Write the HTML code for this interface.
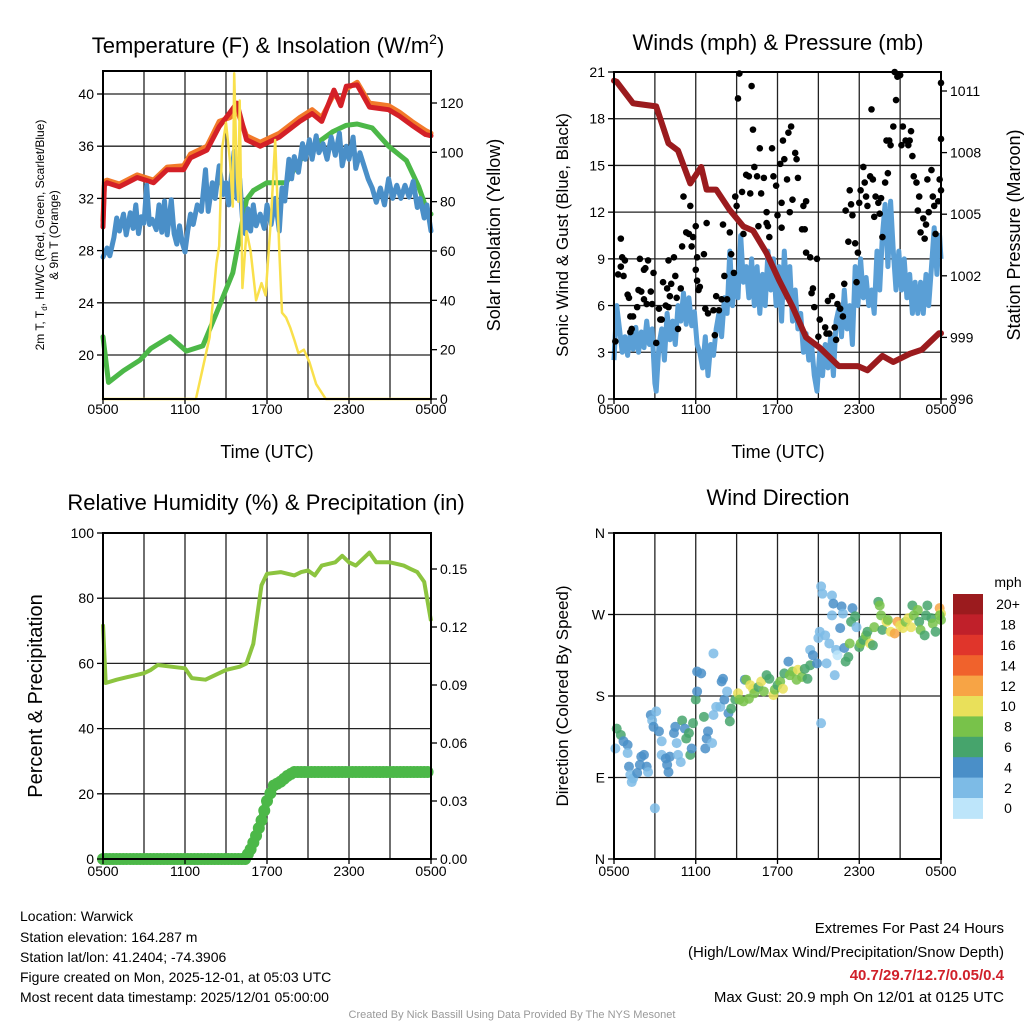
<!DOCTYPE html>
<html><head><meta charset="utf-8">
<style>
html,body{margin:0;padding:0;background:#fff;}
svg{display:block;font-family:"Liberation Sans",Arial,sans-serif;}
</style></head>
<body>
<svg id="c" width="1024" height="1024" viewBox="0 0 1024 1024" xmlns="http://www.w3.org/2000/svg">
<rect width="1024" height="1024" fill="#fff"/>
<text x="268" y="53" font-size="22" text-anchor="middle">Temperature (F) &amp; Insolation (W/m<tspan font-size="14" dy="-9">2</tspan><tspan dy="9">)</tspan></text>
<text x="778" y="50" font-size="22" text-anchor="middle">Winds (mph) &amp; Pressure (mb)</text>
<text x="266" y="510" font-size="22" text-anchor="middle">Relative Humidity (%) &amp; Precipitation (in)</text>
<text x="778" y="505" font-size="22" text-anchor="middle">Wind Direction</text>

<text x="267" y="458" font-size="18" text-anchor="middle">Time (UTC)</text>
<text x="778" y="458" font-size="18" text-anchor="middle">Time (UTC)</text>

<g font-size="12" text-anchor="middle">
<text transform="translate(44,235) rotate(-90)">2m T, T<tspan font-size="8" dy="3">d</tspan><tspan dy="-3">, HI/WC (Red, Green, Scarlet/Blue)</tspan></text>
<text transform="translate(58,235) rotate(-90)">&amp; 9m T (Orange)</text>
</g>
<text transform="translate(500,235) rotate(-90)" font-size="18" text-anchor="middle">Solar Insolation (Yellow)</text>
<text transform="translate(568,235) rotate(-90)" font-size="17" text-anchor="middle">Sonic Wind &amp; Gust (Blue, Black)</text>
<text transform="translate(1020,235) rotate(-90)" font-size="18" text-anchor="middle">Station Pressure (Maroon)</text>
<text transform="translate(42,696) rotate(-90)" font-size="20" text-anchor="middle">Percent &amp; Precipitation</text>
<text transform="translate(568,696) rotate(-90)" font-size="17" text-anchor="middle">Direction (Colored By Speed)</text>

<g font-size="14">
<text x="20" y="921">Location: Warwick</text>
<text x="20" y="942">Station elevation: 164.287 m</text>
<text x="20" y="962">Station lat/lon: 41.2404; -74.3906</text>
<text x="20" y="982">Figure created on Mon, 2025-12-01, at 05:03 UTC</text>
<text x="20" y="1002">Most recent data timestamp: 2025/12/01 05:00:00</text>
</g>
<g font-size="15" text-anchor="end">
<text x="1004" y="933">Extremes For Past 24 Hours</text>
<text x="1004" y="957">(High/Low/Max Wind/Precipitation/Snow Depth)</text>
<text x="1004" y="980" fill="#d0202a" font-weight="bold">40.7/29.7/12.7/0.05/0.4</text>
<text x="1004" y="1002">Max Gust: 20.9 mph On 12/01 at 0125 UTC</text>
</g>
<text x="512" y="1018" font-size="11" fill="#999" text-anchor="middle">Created By Nick Bassill Using Data Provided By The NYS Mesonet</text>
<g id="plots"></g>
</svg>
<script>
// ---------- DATA ----------
const xTickLabels = ["0500","1100","1700","2300","0500"];
const tempTicks = [20,24,28,32,36,40];
const solarTicks = [0,20,40,60,80,100,120];
const windTicks = [0,3,6,9,12,15,18,21];
const presTicks = [996,999,1002,1005,1008,1011];
const rhTicks = [0,20,40,60,80,100];
const precipTicks = [0,0.03,0.06,0.09,0.12,0.15];
const precipTickLabels = ["0.00","0.03","0.06","0.09","0.12","0.15"];
const dirTicks = [0,90,180,270,360];
const dirTickLabels = ["N","E","S","W","N"];
const speedBins = ["0","2","4","6","8","10","12","14","16","18","20+"];
const speedColors = ["#bde5fa","#7dbbe6","#4a8fc8","#46a46c","#78c24a","#e9e05a","#f7a445","#f0622c","#e0352b","#c0202a","#9b1b1e"];

const tempHours = [0,0.1,0.3,1.2,2.5,3.7,4.7,5.9,6.4,7.6,8.5,9.3,9.8,10.5,11.5,12.9,14.4,15.3,16.0,16.9,17.4,17.8,18.6,19.5,20.9,21.7,22.6,23.6,24];
const tempRed = [29.8,33.0,33.2,32.9,33.6,33.2,34.2,34.2,35.1,35.7,37.5,38.6,39.3,36.5,36.0,36.7,37.9,38.5,37.9,40.3,39.1,40.6,40.7,39.0,38.8,38.3,37.6,36.9,36.8];
const tempOrange = [30.3,33.3,33.4,33.1,33.8,33.4,34.4,34.5,35.4,36.0,37.9,38.2,38.8,36.8,36.3,37.0,38.2,38.8,38.2,40.0,39.4,40.4,40.9,39.3,39.1,38.6,37.9,37.2,37.0];
const greenHours = [0,0.4,1.5,2.7,3.5,4.9,6.1,7.3,8.3,9.5,10.5,11.0,12.0,13.4,14.4,15.6,16.8,17.8,18.6,19.7,20.9,22.2,23.1,23.7,24];
const tempGreen = [21.4,17.9,18.8,19.6,20.5,21.4,20.3,20.7,23.2,26.3,31.9,32.6,33.2,33.2,34.9,36.2,37.1,37.6,37.7,37.4,36.0,34.9,32.9,31.1,30.8];
const blueHours = [0,0.3,0.5,0.8,1.0,1.2,1.5,1.7,2.0,2.2,2.4,2.6,2.8,3.0,3.2,3.4,3.6,3.9,4.1,4.3,4.5,4.7,5.0,5.2,5.4,5.6,5.8,6.0,6.2,6.4,6.6,6.9,7.2,7.5,7.7,8.0,8.2,8.5,8.8,9.0,9.2,9.4,9.6,9.8,10.0,10.2,10.4,10.6,10.8,11.0,11.2,11.5,11.8,12.0,12.3,12.6,12.9,13.1,13.3,13.6,13.8,14.0,14.3,14.6,14.8,15.1,15.3,15.6,15.8,16.1,16.4,16.7,17.0,17.3,17.5,17.8,18.0,18.3,18.5,18.8,19.1,19.4,19.7,20.0,20.3,20.6,20.9,21.2,21.5,21.8,22.1,22.4,22.7,23.0,23.2,23.5,23.7,24.0];
const tempBlue = [27.5,28.2,27.6,29.0,30.5,29.5,30.8,29.2,30.9,29.7,31.5,29.3,30.6,30.1,33.0,30.0,30.4,29.6,31.5,29.4,31.8,29.2,31.9,29.3,28.5,29.9,28.6,27.9,29.5,30.8,30.0,31.5,31.0,34.2,31.0,33.2,32.0,34.5,32.3,33.2,31.5,33.8,35.6,32.0,33.5,30.5,29.3,31.2,29.5,31.5,29.9,30.8,29.7,31.5,30.0,32.0,29.5,32.8,31.8,35.0,33.5,35.2,34.0,36.2,35.0,36.5,35.0,36.8,35.5,36.2,35.0,36.7,35.3,37.0,34.5,36.0,35.0,36.7,34.3,35.5,34.5,33.5,32.8,31.7,32.8,31.5,33.5,32.0,33.0,32.0,33.0,32.1,33.3,31.3,32.0,30.5,31.5,29.5];
const solarHours = [0,6.8,7.2,7.8,8.3,8.5,8.7,9.0,9.3,9.5,9.6,9.8,9.9,10.0,10.2,10.5,10.8,11.2,11.6,11.9,12.3,12.6,12.9,13.1,13.4,13.7,14.0,14.3,14.7,15.1,15.6,16.3,24];
const solarValues = [0,0,10,25,55,62,101,112,96,78,132,90,80,121,45,68,60,40,47,42,74,105,60,35,33,29,24,18.6,20,15,6,0,0];

const presHours = [0,0.2,1.4,3.1,4.0,4.7,5.6,6.4,6.8,7.5,8.5,9.5,10.2,11.2,12.1,13.1,14.1,15.1,16.5,17.9,18.6,19.7,20.5,21.7,22.6,23.85,24];
const presValues = [1011.5,1011.45,1010.4,1010.25,1008.45,1008.1,1006.5,1007.3,1006.2,1006.2,1005.2,1004.4,1004.2,1003.1,1001.8,1000.5,999.0,998.5,997.6,997.6,997.4,998.1,997.8,998.2,998.4,999.2,999.2];
const windHours = [0,0.2,0.4,0.6,0.8,1.0,1.2,1.4,1.6,1.8,2.0,2.2,2.4,2.6,2.8,3.0,3.1,3.3,3.5,3.7,3.9,4.1,4.3,4.5,4.7,4.9,5.1,5.3,5.5,5.7,5.9,6.1,6.3,6.5,6.7,6.9,7.1,7.3,7.5,7.7,7.9,8.1,8.3,8.5,8.7,8.9,9.1,9.3,9.5,9.7,9.9,10.1,10.3,10.5,10.7,10.9,11.1,11.3,11.5,11.7,11.9,12.1,12.3,12.5,12.7,12.9,13.1,13.3,13.5,13.7,13.9,14.1,14.3,14.5,14.7,14.9,15.1,15.3,15.5,15.7,15.9,16.1,16.3,16.5,16.7,16.9,17.1,17.3,17.5,17.7,17.9,18.1,18.3,18.5,18.7,18.9,19.1,19.3,19.5,19.7,19.9,20.1,20.3,20.5,20.7,20.9,21.1,21.3,21.5,21.7,21.9,22.1,22.3,22.5,22.7,22.9,23.1,23.3,23.5,23.7,23.9,24.0];
const windSpeed = [2.5,6.0,4.5,3.0,4.0,2.8,4.2,3.2,4.6,3.0,4.3,3.3,5.0,3.5,4.5,1.0,0.5,3.5,4.5,2.5,5.5,3.8,5.0,3.5,6.0,5.0,6.8,4.8,6.5,4.7,5.6,3.5,3.0,2.0,4.0,1.5,3.5,2.8,4.5,5.5,4.0,6.5,5.5,9.5,6.0,8.0,6.5,10.5,7.5,8.5,6.5,9.0,6.0,8.5,5.5,8.0,6.0,9.5,7.0,9.0,6.0,8.5,5.0,9.5,6.5,8.5,5.0,7.0,4.5,5.5,3.0,4.2,2.5,3.5,1.5,0.5,3.0,1.5,3.5,2.0,4.0,1.5,5.0,5.8,4.0,7.0,4.5,6.0,3.5,8.5,6.0,9.0,6.5,7.8,6.0,7.0,5.5,9.5,7.0,10.5,12.5,8.5,12.7,9.5,7.0,9.5,7.0,9.0,6.5,8.0,5.5,7.5,5.5,7.5,5.5,8.0,6.0,8.5,11.0,8.0,10.5,9.0];
const gustHours = [0.1,0.3,0.5,0.6,0.5,0.8,0.7,1.0,1.1,1.2,1.3,1.4,1.2,1.7,1.8,1.9,2.0,2.2,2.2,2.3,2.4,2.5,2.7,2.8,2.9,3.1,3.3,3.4,3.5,3.6,3.8,3.9,4.0,4.0,4.1,4.2,4.4,4.5,4.6,4.7,4.9,5.0,5.1,5.3,5.5,5.6,5.7,5.8,6.0,6.0,6.1,6.1,6.2,6.3,6.6,6.7,6.8,6.9,7.3,7.4,7.5,7.7,7.9,8.0,8.1,8.3,8.5,8.6,8.8,8.9,9.0,9.1,9.2,9.4,9.5,9.7,9.9,10.0,10.1,10.2,10.3,10.5,10.6,10.7,10.8,11.0,11.2,11.2,11.3,11.4,11.6,11.7,11.9,12.0,12.2,12.3,12.3,12.4,12.5,12.7,12.8,12.9,13.0,13.1,13.3,13.4,13.5,13.8,13.9,14.0,14.1,14.1,14.4,14.5,14.6,14.7,14.9,15.0,15.1,15.5,15.6,15.7,15.8,16.0,16.2,16.3,16.4,16.6,16.8,16.9,17.0,17.2,17.3,17.4,17.5,17.7,17.8,17.9,18.0,18.1,18.3,18.4,18.5,18.6,18.8,18.9,19.0,19.1,19.2,19.4,19.5,19.6,19.7,19.9,20.0,20.1,20.2,20.3,20.5,20.6,20.7,20.8,21.0,21.1,21.2,21.4,21.6,21.7,21.8,21.9,22.0,22.2,22.3,22.4,22.5,22.7,22.8,22.9,23.0,23.1,23.3,23.4,23.5,23.6,23.8,23.9,24.0,24.0,24.0];
const gustSpeed = [3.7,8.0,10.3,9.1,8.5,8.9,7.9,6.7,6.5,5.3,4.5,5.3,4.3,5.9,7.0,9.0,6.9,6.4,8.3,8.4,6.1,8.9,6.9,6.1,8.1,3.6,5.8,5.1,5.1,7.5,6.0,7.1,8.9,5.9,6.6,7.4,9.1,7.9,6.5,4.5,7.1,9.8,13.0,10.7,10.6,12.4,9.8,10.4,11.1,8.3,9.1,7.6,7.0,7.2,9.3,5.8,11.3,5.5,5.7,4.1,6.6,5.7,6.4,11.2,7.9,6.4,10.7,9.3,8.1,13.0,12.4,19.3,20.9,13.3,10.6,14.4,14.3,13.2,20.1,17.3,14.9,14.3,11.1,16.1,13.2,14.2,12.0,11.3,11.1,10.4,16.1,14.3,13.7,11.8,15.1,12.6,11.0,16.6,15.4,14.1,17.1,12.0,17.5,12.8,15.8,15.4,14.2,10.9,12.4,10.9,12.7,9.4,9.1,6.8,7.1,5.9,9.0,4.0,5.1,4.6,4.2,6.3,4.2,6.6,4.6,3.8,6.1,5.8,5.3,7.4,12.1,10.1,13.4,12.5,11.8,10.0,7.5,9.4,12.6,13.4,14.9,13.9,13.0,12.4,14.3,18.6,14.1,11.7,13.0,12.6,11.9,12.9,10.4,13.9,16.6,14.5,16.6,16.3,17.5,21.0,19.2,20.7,20.8,16.3,17.5,16.6,16.3,16.6,17.2,15.6,14.3,13.9,12.1,13.0,10.7,11.6,10.3,11.2,14.1,12.0,14.7,13.0,12.4,10.6,12.7,14.1,20.3,13.4,16.7];

const rhHours = [0,0.2,1,2,3,3.5,4,5,6,6.5,7.5,8,9,10,10.5,11,11.3,11.6,12,13,14,14.5,15,15.5,16,17,17.5,18,18.5,19,19.5,20,21,22,22.5,23,23.5,24];
const rhValues = [72,54,55,56,57,58,59.5,59,58.5,55.5,55,56,58,59,60,66,75,84,87.5,88,87,88,88.5,87,90,91,93,91,90,92,94,91,91,90,89,88,85,73];
const precipHours = [0,10.4,10.8,11.2,11.6,12.0,12.5,13.0,13.5,14.0,24];
const precipValues = [0,0,0.005,0.012,0.02,0.03,0.038,0.04,0.043,0.045,0.045];

const dirHours = [0.2,0.5,0.7,1.0,0.1,1.0,1.1,1.2,1.3,1.4,1.7,1.9,2.0,2.2,2.4,2.5,2.7,2.8,2.9,3.1,3.0,3.3,3.5,3.5,3.8,3.9,4.0,4.1,4.4,4.5,4.6,4.7,4.9,5.0,5.2,5.3,5.5,5.6,5.7,5.8,6.0,6.1,6.1,6.4,6.6,6.7,6.8,6.9,7.2,7.3,7.3,7.5,7.8,7.9,8.0,8.1,8.3,8.4,8.5,8.6,8.9,9.1,9.2,9.5,9.6,9.7,9.9,10.0,10.2,10.3,10.6,10.8,11.0,11.2,11.4,11.7,11.8,12.0,12.2,12.4,12.5,12.8,12.9,13.1,13.4,13.5,13.8,14.0,14.2,14.4,14.4,14.6,14.9,15.0,15.1,15.2,15.3,15.2,15.5,15.6,15.8,16.0,16.0,16.1,16.2,16.3,16.4,16.6,16.7,16.8,16.9,17.0,17.2,17.3,17.4,17.5,17.7,17.8,18.0,18.1,18.3,18.5,18.6,18.8,19.0,19.1,19.4,19.5,19.6,19.7,20.0,20.1,20.3,20.6,20.8,21.0,21.2,21.4,21.6,21.8,21.9,22.0,22.3,22.4,22.5,22.8,22.9,23.0,23.3,23.4,23.6,23.9,24.0,24.0,23.9];
const dirDegrees = [144,137,130,126,122,117,102,93,85,89,95,104,113,115,102,96,159,153,146,163,56,141,130,115,111,104,96,113,139,146,128,115,107,153,144,133,139,115,122,150,176,185,207,205,157,122,133,141,128,159,227,168,168,196,199,176,185,161,152,166,176,183,176,174,198,198,177,192,188,183,190,196,185,203,199,181,187,192,196,188,205,218,203,207,198,209,201,210,199,214,231,225,216,244,251,301,293,150,247,216,238,269,291,282,203,231,225,255,279,271,233,218,223,238,262,277,268,256,234,238,242,247,251,238,236,256,284,280,269,253,262,264,251,249,262,258,255,262,266,256,280,269,275,262,253,247,269,280,266,260,251,277,271,264,269];
const dirSpeeds = [7,7,5,5,3,3,5,3,3,3,5,5,5,5,5,3,5,3,5,3,3,5,3,3,5,5,5,5,5,5,3,3,3,7,5,7,7,7,5,7,7,5,5,5,7,5,5,5,3,3,3,3,3,5,5,5,3,5,7,7,7,11,9,9,5,9,9,11,11,9,7,11,9,7,7,11,9,7,9,11,7,5,9,9,9,11,9,7,7,7,3,5,5,3,3,3,3,3,3,3,3,3,3,5,3,3,1,5,5,3,5,7,7,9,7,5,7,3,7,9,7,9,7,11,7,9,7,9,9,7,11,9,11,13,13,11,11,9,11,11,7,9,9,7,9,7,7,7,7,9,7,13,11,9,9];

// ---------- HELPERS ----------
const NS = "http://www.w3.org/2000/svg";
const root = document.getElementById("plots");
function mk(tag, attrs, parent) {
  const e = document.createElementNS(NS, tag);
  for (const k in attrs) e.setAttribute(k, attrs[k]);
  (parent || root).appendChild(e);
  return e;
}
function lin(d0, r0, d1, r1) { return v => r0 + (v - d0) * (r1 - d0 === 0 ? 0 : (r1 - r0) / (d1 - d0)); }
function linear(d0, r0, d1, r1) { return v => r0 + (v - d0) * (r1 - r0) / (d1 - d0); }
function pathFrom(xs, ys, xf, yf) {
  return xs.map((h, i) => (i ? "L" : "M") + xf(h).toFixed(1) + "," + yf(ys[i]).toFixed(1)).join("");
}

function frame(L, T, R, B, xf, name) {
  const g = mk("g", {});
  
  
  for (let h = 0; h <= 24; h += 3) {
    const x = xf(h);
    mk("line", {x1: x, y1: T, x2: x, y2: B, stroke: "#222", "stroke-width": 1.3}, g);
  }
  return g;
}
function hgrid(g, L, R, vals, yf) {
  vals.forEach(v => mk("line", {x1: L, y1: yf(v), x2: R, y2: yf(v), stroke: "#222", "stroke-width": 1.3}, g));
}
function border(L, T, R, B, name) {
  const r = mk("rect", {x: L, y: T, width: R - L, height: B - T, fill: "none", stroke: "#000", "stroke-width": 2});
  
  
}
function xTicks(B, xf, labelY, name) {
  const g = mk("g", {"font-size": 14, "text-anchor": "middle"});
  
  
  xTickLabels.forEach((t, i) => {
    const x = xf(i * 6);
    mk("line", {x1: x, y1: B, x2: x, y2: B + 5, stroke: "#000", "stroke-width": 1.3}, g);
    const tx = mk("text", {x: x, y: labelY}, g);
    tx.textContent = t;
  });
}
function yTicks(x, vals, labels, yf, side, name) {
  const g = mk("g", {"font-size": 14, "text-anchor": side === "left" ? "end" : "start"});
  
  
  vals.forEach((v, i) => {
    const y = yf(v);
    const dx = side === "left" ? -6 : 6;
    mk("line", {x1: x, y1: y, x2: x + dx, y2: y, stroke: "#000", "stroke-width": 1.3}, g);
    const tx = mk("text", {x: x + (side === "left" ? -9 : 9), y: y + 5}, g);
    tx.textContent = labels[i];
  });
}

// ---------- PANEL 1: Temperature ----------
(function () {
  const L = 103, T = 71, R = 431, B = 399;
  const xf = linear(0, L, 24, R);
  const yT = linear(20, 355, 40, 94);
  const yW = linear(0, B, 120, 103);
  const g = frame(L, T, R, B, xf, "temp");
  hgrid(g, L, R, tempTicks, yT);
  const pieces = [
    ["solar-line", solarHours, solarValues, yW, "#f9e04c", 2.5],
    ["temp-9m-orange-line", tempHours, tempOrange, yT, "#f27a2a", 5],
    ["temp-2m-red-line", tempHours, tempRed, yT, "#d42027", 5],
    ["hiwc-green-line", greenHours, tempGreen, yT, "#4cb848", 5],
    ["dewpoint-blue-line", blueHours, tempBlue, yT, "#4a8fc8", 5]
  ];
  const order = [1, 2, 3, 4, 0];
  order.forEach(k => {
    const p = pieces[k];
    const e = mk("path", {d: pathFrom(p[1], p[2], xf, p[3]), fill: "none", stroke: p[4], "stroke-width": p[5], "stroke-linejoin": "round", "stroke-linecap": "round"});
    
    
  });
  border(L, T, R, B, "temp");
  xTicks(B, xf, 414, "temp");
  yTicks(L, tempTicks, tempTicks.map(String), yT, "left", "temp-y-ticks");
  yTicks(R, solarTicks, solarTicks.map(String), yW, "right", "solar-y-ticks");
})();

// ---------- PANEL 2: Winds ----------
(function () {
  const L = 614, T = 72, R = 941, B = 399;
  const xf = linear(0, L, 24, R);
  const yM = linear(0, B, 21, T);
  const yP = linear(996, 399, 1011, 91);
  const g = frame(L, T, R, B, xf, "wind");
  hgrid(g, L, R, windTicks, yM);
  const wl = mk("path", {d: pathFrom(windHours, windSpeed, xf, yM), fill: "none", stroke: "#5a9fd6", "stroke-width": 5, "stroke-linejoin": "round"});
  
  
  const dg = mk("g", {fill: "#000"});
  
  
  gustHours.forEach((h, i) => {
    const c = mk("circle", {cx: xf(h), cy: yM(gustSpeed[i]), r: 3.3}, dg);
    
    
  });
  const pl = mk("path", {d: pathFrom(presHours, presValues, xf, yP), fill: "none", stroke: "#9b1b1e", "stroke-width": 6, "stroke-linejoin": "round", "stroke-linecap": "round"});
  
  
  border(L, T, R, B, "wind");
  xTicks(B, xf, 414, "wind");
  yTicks(L, windTicks, windTicks.map(String), yM, "left", "wind-y-ticks");
  yTicks(R, presTicks, presTicks.map(String), yP, "right", "pressure-y-ticks");
})();

// ---------- PANEL 3: RH & Precip ----------
(function () {
  const L = 103, T = 533, R = 431, B = 859;
  const xf = linear(0, L, 24, R);
  const yR = linear(0, B, 100, T);
  const yPr = linear(0, B, 0.15, 569);
  const g = frame(L, T, R, B, xf, "rh");
  hgrid(g, L, R, rhTicks, yR);
  const rl = mk("path", {d: pathFrom(rhHours, rhValues, xf, yR), fill: "none", stroke: "#8cc43f", "stroke-width": 4, "stroke-linejoin": "round"});
  
  
  const pr = mk("path", {d: pathFrom(precipHours, precipValues, xf, yPr), fill: "none", stroke: "#4cb848", "stroke-width": 8, "stroke-linejoin": "round"});
  
  
  const pg = mk("g", {fill: "#4cb848"});
  
  
  for (let k = 0; k < precipHours.length - 1; k++) {
    const h0 = precipHours[k], h1 = precipHours[k + 1];
    const n = Math.max(1, Math.round((h1 - h0) * 4));
    for (let j = 0; j < n; j++) {
      const t = j / n;
      const c = mk("circle", {cx: xf(h0 + (h1 - h0) * t), cy: yPr(precipValues[k] + (precipValues[k + 1] - precipValues[k]) * t), r: 6}, pg);
      
      
    }
  }
  border(L, T, R, B, "rh");
  xTicks(B, xf, 876, "rh");
  yTicks(L, rhTicks, rhTicks.map(String), yR, "left", "rh-y-ticks");
  yTicks(R, precipTicks, precipTickLabels, yPr, "right", "precip-y-ticks");
})();

// ---------- PANEL 4: Wind Direction ----------
(function () {
  const L = 614, T = 533, R = 941, B = 859;
  const xf = linear(0, L, 24, R);
  const yD = linear(0, B, 360, T);
  const g = frame(L, T, R, B, xf, "direction");
  hgrid(g, L, R, dirTicks, yD);
  const dg = mk("g", {"fill-opacity": 0.85});
  
  
  dirHours.forEach((h, i) => {
    const bin = Math.min(10, Math.floor(dirSpeeds[i] / 2));
    const c = mk("circle", {cx: xf(h), cy: yD(dirDegrees[i]), r: 5, fill: speedColors[bin]}, dg);
    
    
  });
  border(L, T, R, B, "direction");
  xTicks(B, xf, 876, "direction");
  yTicks(L, dirTicks, dirTickLabels, yD, "left", "direction-y-ticks");
  // colorbar
  const cb = mk("g", {"font-size": 14});
  
  
  const top = 594, bh = 20.4;
  for (let i = 0; i < speedBins.length; i++) {
    const k = speedBins.length - 1 - i;
    const y = top + i * bh;
    const r = mk("rect", {x: 953, y: y, width: 30, height: bh + 0.5, fill: speedColors[k]}, cb);
    
    
    const t = mk("text", {x: 1008, y: y + bh / 2 + 5, "text-anchor": "middle"}, cb);
    t.textContent = speedBins[k];
  }
  const u = mk("text", {x: 1008, y: 587, "text-anchor": "middle"}, cb);
  u.textContent = "mph";
})();
</script>
</body></html>
